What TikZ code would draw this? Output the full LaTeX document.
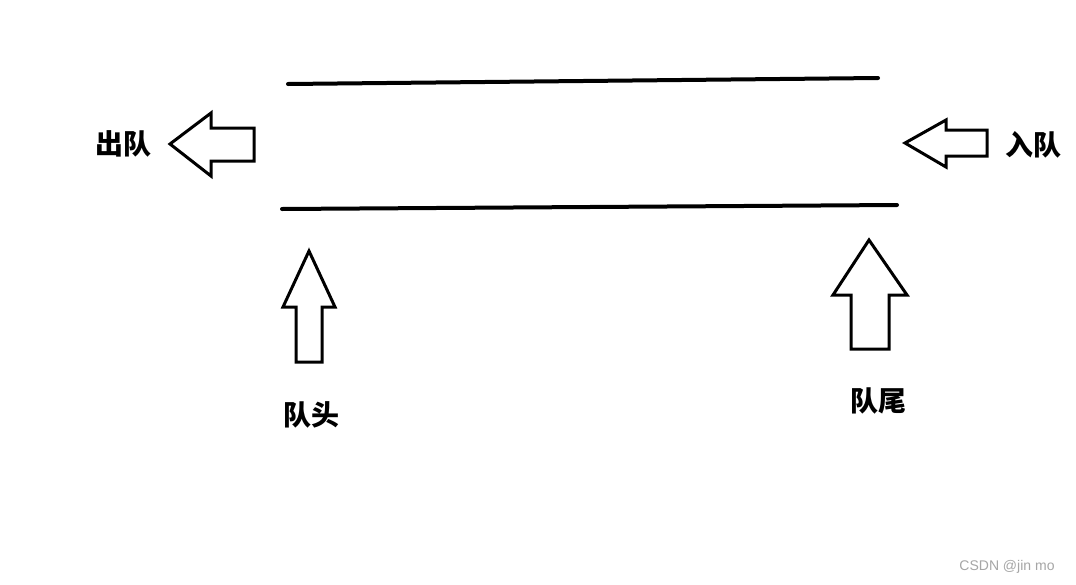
\documentclass[tikz,border=0pt]{standalone}
\usepackage{fontspec}
\newfontfamily\cjk{Noto Sans CJK SC}
\begin{document}
\begin{tikzpicture}[x=1pt,y=-1pt,
  ln/.style={line width=4pt,line cap=round},
  blk/.style={line width=3pt,line join=miter},
  lab/.style={font=\cjk\fontsize{28}{30}\selectfont\bfseries,inner sep=0pt}]
\useasboundingbox[fill=white] (0,0) rectangle (1076,584);
\coordinate (t1) at (288,84); \coordinate (t2) at (878,78);
\coordinate (b1) at (282,209); \coordinate (b2) at (897,205);
\draw[ln] (t1) -- (t2);
\draw[ln] (b1) -- (b2);
% out arrow
\draw[blk] (170,144) -- (211,113) -- (211,128) -- (254,128) -- (254,161) -- (211,161) -- (211,176) -- cycle;
% in arrow
\draw[blk] (905,143) -- (946,120) -- (946,130) -- (987,130) -- (987,156) -- (946,156) -- (946,167) -- cycle;
% head arrow
\draw[blk] (309,251) -- (335,307) -- (322,307) -- (322,362) -- (296,362) -- (296,307) -- (283,307) -- cycle;
% tail arrow
\draw[blk] (869,240) -- (907,295) -- (889,295) -- (889,349) -- (851,349) -- (851,295) -- (833,295) -- cycle;
\node[lab] (out) at (123,144) {出队};
\node[lab] (in) at (1033,145) {入队};
\node[lab] (head) at (311,415) {队头};
\node[lab] (tail) at (878,401) {队尾};
\node[font=\fontspec{Liberation Sans}\fontsize{14}{16}\selectfont,text=black!35,inner sep=0pt] (wm) at (1007,567) {CSDN @jin mo};
\end{tikzpicture}
\end{document}
